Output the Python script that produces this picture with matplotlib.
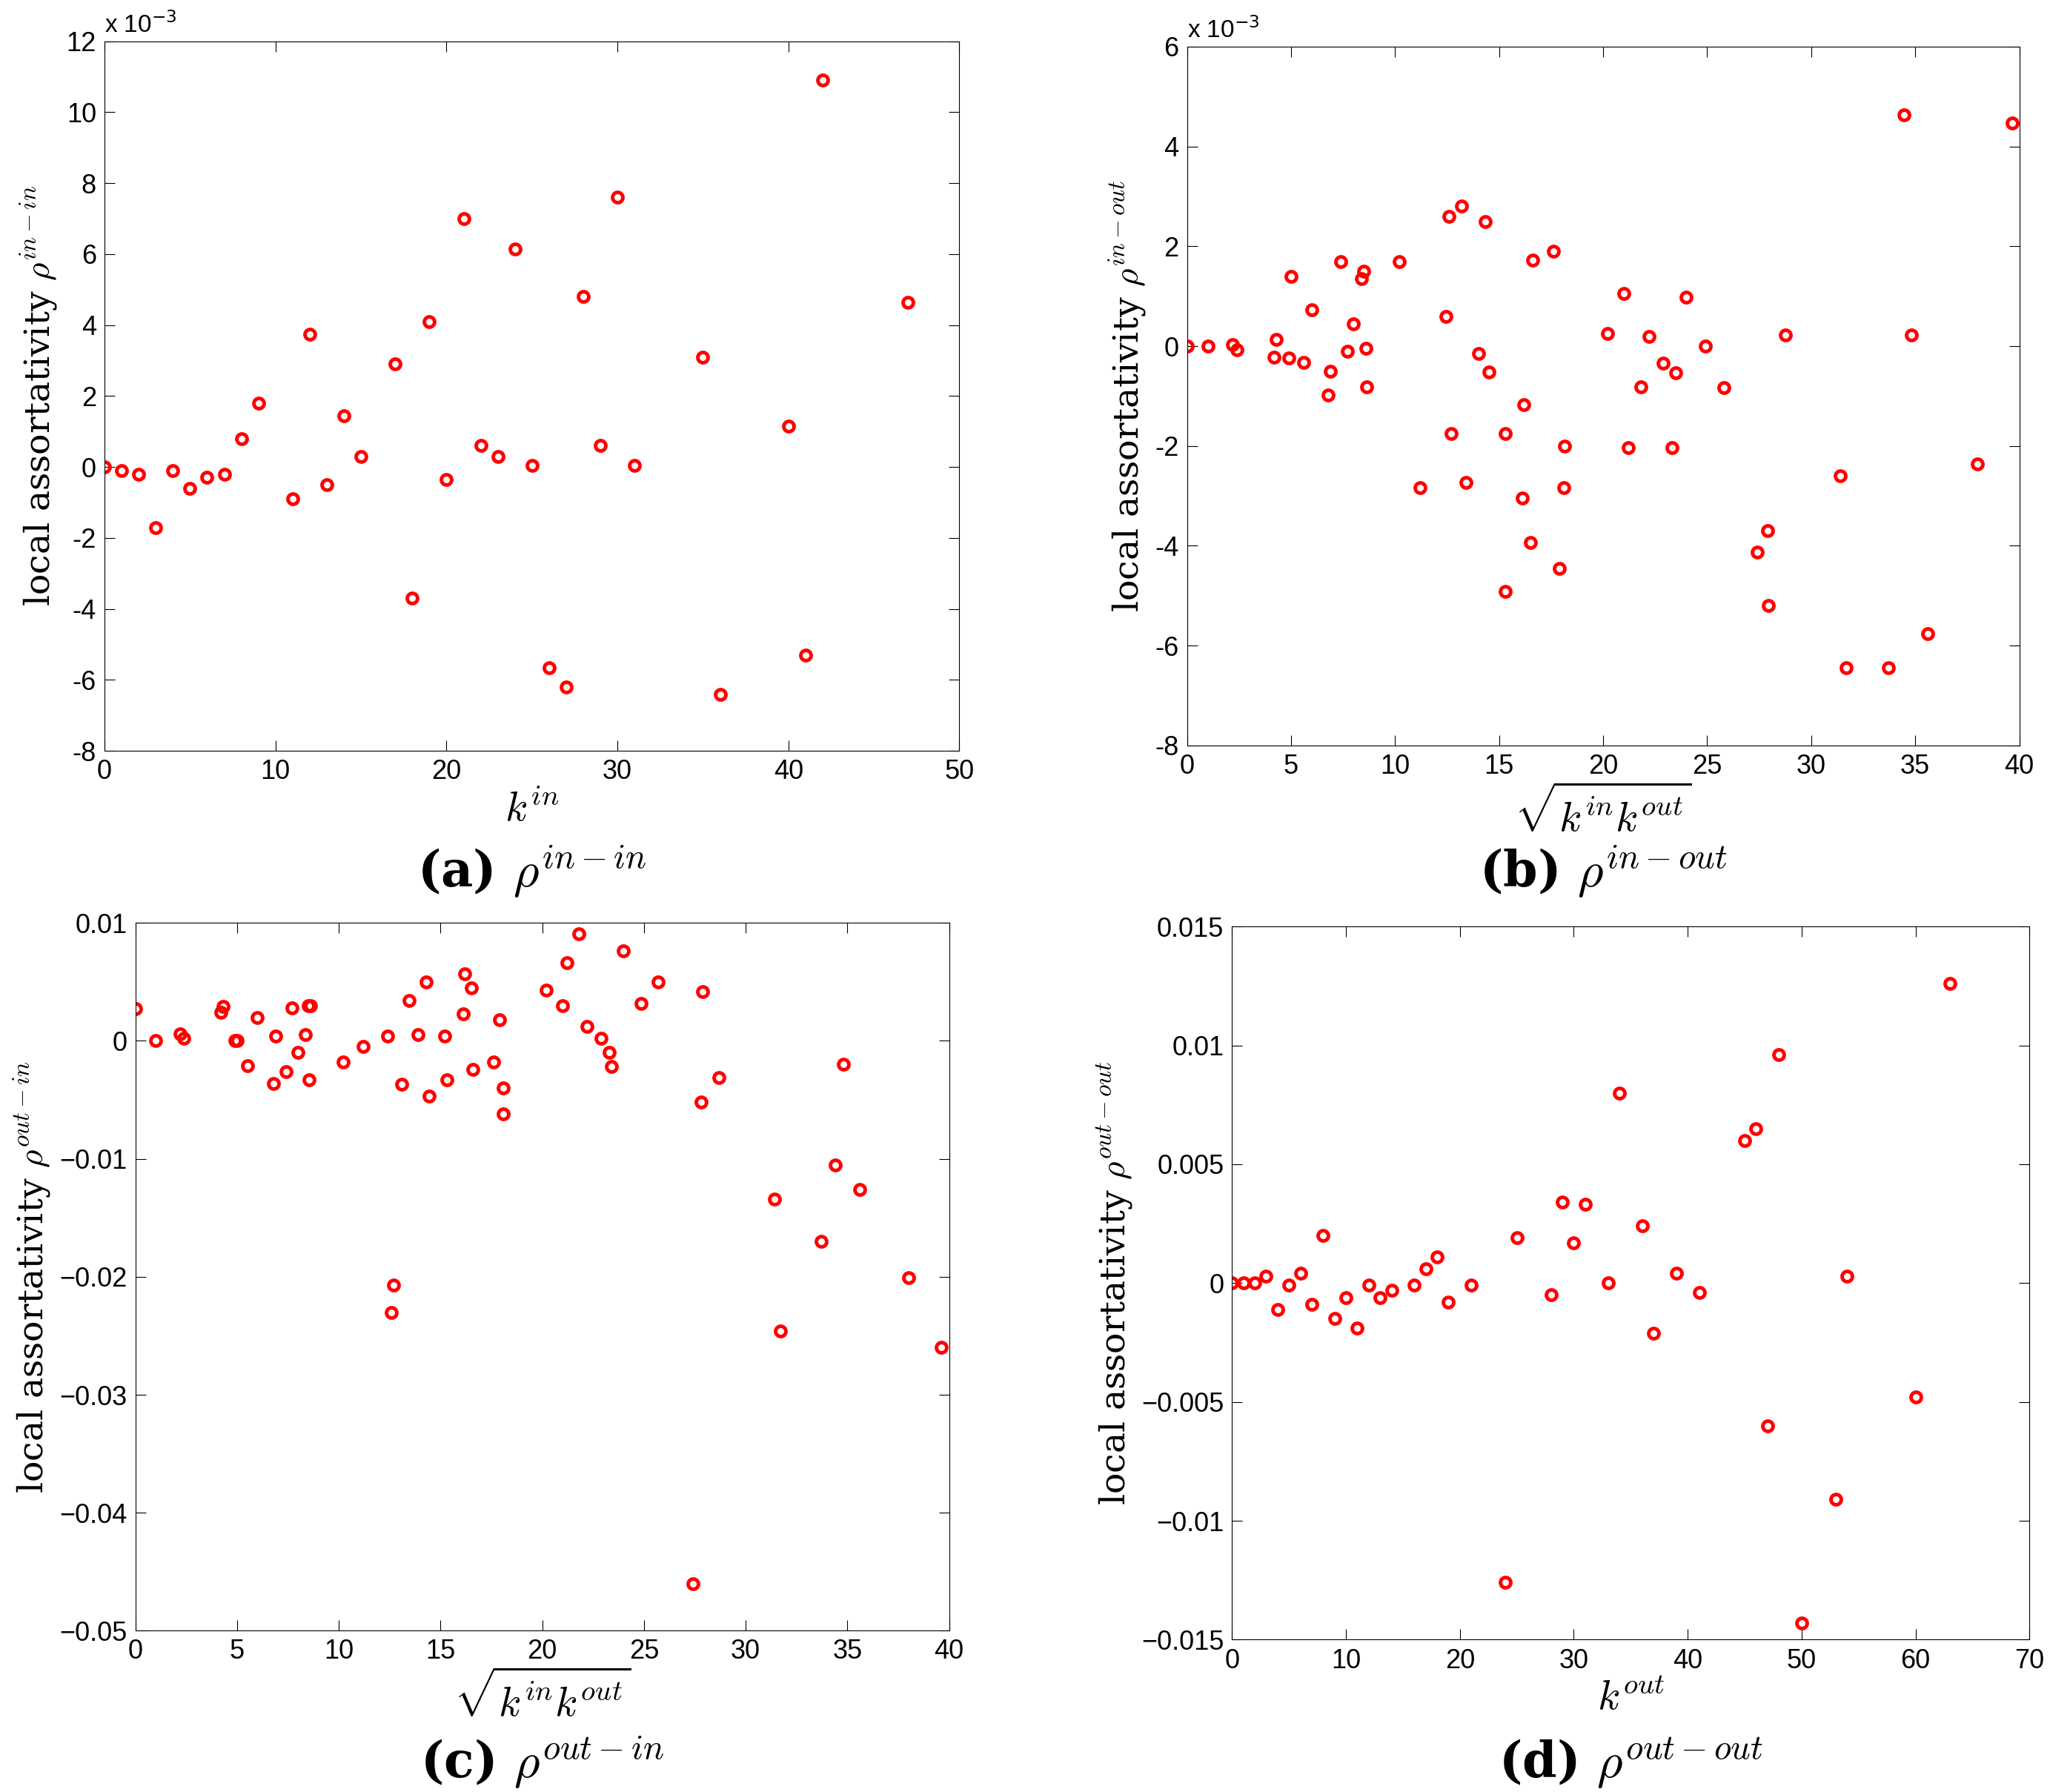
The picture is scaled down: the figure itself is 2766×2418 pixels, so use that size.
import matplotlib.pyplot as plt
import numpy as np

# (a) rho in-in vs k_in   (values x 1e-3)
a_x = [0, 1, 2, 3, 4, 5, 6, 7, 8, 9, 11, 12, 13, 14, 15, 17, 18, 19, 20, 21, 22, 23, 24, 25,
       26, 27, 28, 29, 30, 31, 35, 36, 40, 41, 42, 47]
a_y = [0, -0.1, -0.2, -1.7, -0.1, -0.6, -0.3, -0.2, 0.8, 1.8, -0.9, 3.75, -0.5, 1.45, 0.3, 2.9,
       -3.7, 4.1, -0.35, 7.0, 0.6, 0.3, 6.15, 0.05, -5.65, -6.2, 4.8, 0.6, 7.6, 0.05, 3.1, -6.4,
       1.15, -5.3, 10.9, 4.65]

# (b) rho in-out vs sqrt(kin kout)   (values x 1e-3)
b_x = [0, 1.0, 2.2, 2.4, 4.3, 4.2, 4.9, 5.6, 5.0, 6.0, 6.8, 6.9, 7.4, 7.7, 8.0, 8.4, 8.5, 8.6,
       8.65, 10.2, 11.2, 12.45, 12.6, 12.7, 13.2, 13.4, 14.0, 14.35, 14.5, 15.3, 15.3, 16.1, 16.2,
       16.5, 16.6, 17.6, 17.9, 18.1, 18.15, 20.2, 21.0, 21.2, 21.8, 22.2, 22.9, 23.3, 23.5, 24.0,
       24.9, 25.8, 27.4, 27.9, 27.95, 28.75, 31.4, 31.7, 33.7, 34.45, 34.8, 35.6, 38.0, 39.65]
b_y = [0, 0, 0.03, -0.07, 0.13, -0.22, -0.23, -0.33, 1.39, 0.73, -0.98, -0.5, 1.7, -0.11, 0.45,
       1.35, 1.5, -0.04, -0.81, 1.7, -2.83, 0.6, 2.6, -1.75, 2.81, -2.73, -0.15, 2.5, -0.52, -4.91,
       -1.75, -3.05, -1.17, -3.94, 1.72, 1.9, -4.46, -2.84, -2.0, 0.25, 1.05, -2.04, -0.82, 0.2,
       -0.34, -2.03, -0.54, 0.98, 0.0, -0.83, -4.13, -3.69, -5.2, 0.23, -2.6, -6.45, -6.45, 4.63,
       0.22, -5.76, -2.36, 4.47]

# (c) rho out-in vs sqrt(kin kout)
c_x = [0, 1.0, 2.2, 2.4, 4.3, 4.2, 4.9, 5.0, 5.5, 6.0, 6.8, 6.9, 7.4, 7.7, 8.0, 8.35, 8.5, 8.6,
       8.55, 10.2, 11.2, 12.4, 12.7, 12.6, 13.1, 13.45, 13.9, 14.3, 14.45, 15.2, 15.3, 16.1, 16.2,
       16.5, 16.6, 17.6, 17.9, 18.1, 18.1, 20.2, 21.0, 21.2, 21.8, 22.2, 22.9, 23.3, 23.4, 24.0,
       24.85, 25.7, 27.9, 27.8, 28.7, 31.4, 31.7, 33.7, 34.4, 34.8, 35.6, 38.0, 39.6, 27.4]
c_y = [0.0027, 0, 0.0006, 0.0002, 0.0029, 0.0024, 0, 0, -0.0021, 0.002, -0.0036, 0.0004, -0.0026,
       0.0028, -0.001, 0.0005, 0.003, 0.003, -0.0033, -0.0018, -0.0005, 0.0004, -0.0207, -0.023,
       -0.0037, 0.0034, 0.0005, 0.005, -0.0047, 0.0004, -0.0033, 0.0023, 0.0057, 0.0045, -0.0024,
       -0.0018, 0.0018, -0.004, -0.0062, 0.0043, 0.003, 0.0066, 0.0091, 0.0012, 0.0002, -0.001,
       -0.0022, 0.0076, 0.0032, 0.005, 0.0042, -0.0052, -0.0031, -0.0134, -0.0246, -0.017,
       -0.0105, -0.002, -0.0126, -0.0201, -0.026, -0.046]

# (d) rho out-out vs k_out
d_x = [0, 1, 2, 3, 4, 5, 6, 7, 8, 9, 10, 11, 12, 13, 14, 16, 17, 18, 19, 21, 24, 25, 28, 29, 30,
       31, 33, 34, 36, 37, 39, 41, 45, 46, 47, 48, 50, 53, 54, 60, 63]
d_y = [0, 0, 0, 0.0003, -0.0011, -0.0001, 0.0004, -0.0009, 0.002, -0.0015, -0.0006, -0.0019,
       -0.0001, -0.0006, -0.0003, -0.0001, 0.0006, 0.0011, -0.0008, -0.0001, -0.0126, 0.0019,
       -0.0005, 0.0034, 0.0017, 0.0033, 0, 0.008, 0.0024, -0.0021, 0.0004, -0.0004, 0.006, 0.0065,
       -0.006, 0.0096, -0.0143, -0.0091, 0.0003, -0.0048, 0.0126]

plt.rcParams['mathtext.fontset'] = 'cm'
plt.rcParams['font.family'] = 'Liberation Sans'

fig = plt.figure(figsize=(27.66, 24.18), dpi=100)

def panel(rect, x, y, xlim, ylim, yticks, yticklabels, xlab, ylab, cap, cap_y, offset=False):
    ax = fig.add_axes(rect)
    ax.plot(x, y, 'o', mfc='none', mec='red', mew=3.5, ms=10)
    ax.set_xlim(*xlim)
    ax.set_ylim(*ylim)
    ax.set_yticks(yticks)
    ax.set_yticklabels(yticklabels)
    ax.tick_params(direction='in', length=10, labelsize=26, top=True, right=True, pad=8)
    ax.set_xlabel(xlab, fontsize=40, labelpad=6)
    ax.set_ylabel('local assortativity ' + ylab, fontsize=34, family='DejaVu Serif', labelpad=6)
    if offset:
        ax.text(0.0, 1.005, r'x 10$^{-3}$', transform=ax.transAxes, fontsize=24,
                va='bottom', ha='left', math_fontfamily='dejavusans')
    fig.text(rect[0] + rect[2] / 2, cap_y, cap, ha='center', fontsize=48, fontweight='bold',
             family='DejaVu Serif')
    return ax

yt = np.arange(-8, 13, 2)
panel([0.051, 0.581, 0.417, 0.396], a_x, a_y, (0, 50), (-8, 12), yt, [str(v) for v in yt],
      r'$k^{in}$', r'$\rho^{in-in}$', r'(a) $\rho^{in-in}$', 0.505, offset=True)

yt = np.arange(-8, 7, 2)
panel([0.579, 0.584, 0.406, 0.390], b_x, b_y, (0, 40), (-8, 6), yt, [str(v) for v in yt],
      r'$\sqrt{k^{in}k^{out}}$', r'$\rho^{in-out}$', r'(b) $\rho^{in-out}$', 0.505, offset=True)

yt = [-0.05, -0.04, -0.03, -0.02, -0.01, 0, 0.01]
panel([0.066, 0.090, 0.397, 0.395], c_x, c_y, (0, 40), (-0.05, 0.01), yt,
      ['\u22120.05', '\u22120.04', '\u22120.03', '\u22120.02', '\u22120.01', '0', '0.01'],
      r'$\sqrt{k^{in}k^{out}}$', r'$\rho^{out-in}$', r'(c) $\rho^{out-in}$', 0.008)

yt = [-0.015, -0.01, -0.005, 0, 0.005, 0.01, 0.015]
panel([0.601, 0.085, 0.389, 0.398], d_x, d_y, (0, 70), (-0.015, 0.015), yt,
      ['\u22120.015', '\u22120.01', '\u22120.005', '0', '0.005', '0.01', '0.015'],
      r'$k^{out}$', r'$\rho^{out-out}$', r'(d) $\rho^{out-out}$', 0.008)

plt.savefig('out.png', dpi=100)
